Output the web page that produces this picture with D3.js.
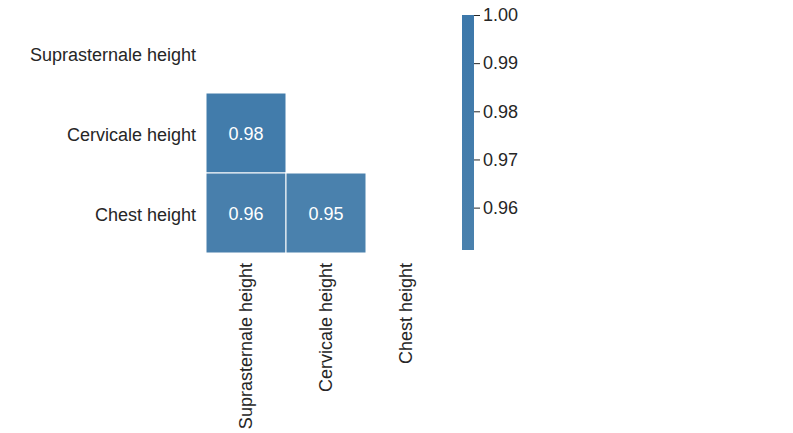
<!DOCTYPE html>
<html>
<head>
<meta charset="utf-8">
<script src="https://cdn.jsdelivr.net/npm/d3@7"></script>
<style>
  body { margin: 0; background: #fff; }
  text { font-family: "Liberation Sans", Arial, sans-serif; }
</style>
</head>
<body>
<div id="chart"></div>
<script>
// variables on both axes
const labels = ["Suprasternale height", "Cervicale height", "Chest height"];
// lower triangle of the correlation matrix, null = masked
const corr = [
  [null, null, null],
  [0.98, null, null],
  [0.96, 0.95, null]
];
const cbarTicks = [0.96, 0.97, 0.98, 0.99, 1.00];
const vmin = 0.9512, vmax = 1.0;

const svg = d3.select("#chart")
  .append("svg")
  .attr("width", 793)
  .attr("height", 433);

const x = d3.scaleBand().domain(labels).range([206, 446]);
const y = d3.scaleBand().domain(labels).range([13, 253]);

const color = d3.scaleLinear()
  .domain([vmin, vmax])
  .range(["#4a81ad", "#3d78aa"])
  .clamp(true);

const cells = [];
corr.forEach((row, i) => row.forEach((v, j) => {
  if (v != null) cells.push({ r: labels[i], c: labels[j], v: v });
}));

const g = svg.append("g");
g.selectAll("rect")
  .data(cells)
  .enter()
  .append("rect")
  .attr("x", d => x(d.c))
  .attr("y", d => y(d.r))
  .attr("width", x.bandwidth())
  .attr("height", y.bandwidth())
  .attr("fill", d => color(d.v))
  .attr("stroke", "#fff")
  .attr("stroke-width", 1);

g.selectAll("text.val")
  .data(cells)
  .enter()
  .append("text")
  .attr("class", "val")
  .attr("x", d => x(d.c) + x.bandwidth() / 2)
  .attr("y", d => y(d.r) + y.bandwidth() / 2 + 1)
  .attr("text-anchor", "middle")
  .attr("dominant-baseline", "central")
  .attr("fill", "#fff")
  .style("font-size", "18px")
  .text(d => d.v.toFixed(2));

// y axis labels
svg.selectAll("text.ylab")
  .data(labels)
  .enter()
  .append("text")
  .attr("class", "ylab")
  .attr("x", 196)
  .attr("y", d => y(d) + y.bandwidth() / 2 + 2)
  .attr("text-anchor", "end")
  .attr("dominant-baseline", "central")
  .attr("fill", "#262626")
  .style("font-size", "18px")
  .text(d => d);

// x axis labels, rotated
svg.selectAll("text.xlab")
  .data(labels)
  .enter()
  .append("text")
  .attr("class", "xlab")
  .attr("transform", d => `translate(${x(d) + x.bandwidth() / 2},263) rotate(-90)`)
  .attr("text-anchor", "end")
  .attr("dominant-baseline", "central")
  .attr("fill", "#262626")
  .style("font-size", "18px")
  .text(d => d);

// colorbar
const cb = d3.scaleLinear().domain([vmin, vmax]).range([250, 15]);
const defs = svg.append("defs");
const grad = defs.append("linearGradient")
  .attr("id", "cbar")
  .attr("x1", 0).attr("y1", 1).attr("x2", 0).attr("y2", 0);
grad.append("stop").attr("offset", "0%").attr("stop-color", color(vmin));
grad.append("stop").attr("offset", "100%").attr("stop-color", color(vmax));

svg.append("rect")
  .attr("x", 462)
  .attr("y", cb(vmax))
  .attr("width", 12)
  .attr("height", cb(vmin) - cb(vmax))
  .attr("fill", "url(#cbar)");

const cbAxis = svg.append("g")
  .attr("transform", "translate(474,0)")
  .call(d3.axisRight(cb).tickValues(cbarTicks).tickFormat(d3.format(".2f")).tickSize(6).tickPadding(3));
cbAxis.select(".domain").remove();
cbAxis.selectAll("line").attr("stroke", "#262626");
cbAxis.selectAll("text")
  .attr("fill", "#262626")
  .style("font-size", "18px")
  .style("font-family", "'Liberation Sans', Arial, sans-serif");
</script>
</body>
</html>
